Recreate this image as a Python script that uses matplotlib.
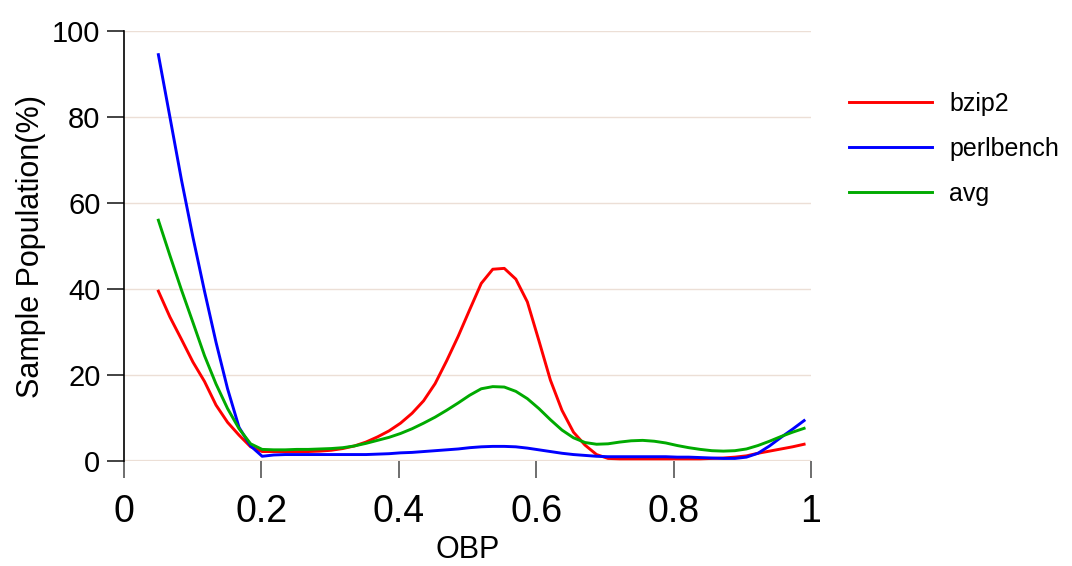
import numpy as np
import matplotlib.pyplot as plt

# OBP sampling grid (57 evenly spaced points)
obp = np.linspace(0.05, 0.99, 57)

# Sample population (%) per benchmark
bzip2 = [39.5, 33.5, 28.3, 23.0, 18.5, 13.0, 9.0, 6.0, 3.3, 2.2,
         2.2, 2.2, 2.2, 2.2, 2.3, 2.5, 2.9, 3.5, 4.4, 5.6,
         7.0, 8.8, 11.1, 14.0, 18.0, 23.3, 29.0, 35.2, 41.3, 44.6,
         44.8, 42.3, 37.0, 28.0, 18.8, 11.8, 6.7, 3.7, 1.5, 0.6,
         0.5, 0.5, 0.5, 0.5, 0.5, 0.5, 0.5, 0.5, 0.6, 0.7,
         0.9, 1.2, 1.8, 2.3, 2.8, 3.3, 3.9]
perlbench = [94.5, 80.0, 65.4, 52.0, 39.5, 27.6, 16.8, 7.8, 3.5, 1.1,
             1.4, 1.5, 1.5, 1.5, 1.5, 1.5, 1.5, 1.5, 1.5, 1.6,
             1.7, 1.9, 2.0, 2.2, 2.4, 2.6, 2.8, 3.1, 3.3, 3.4,
             3.4, 3.3, 3.0, 2.6, 2.2, 1.8, 1.5, 1.3, 1.1, 1.0,
             1.0, 1.0, 1.0, 1.0, 1.0, 0.9, 0.9, 0.8, 0.7, 0.6,
             0.6, 0.9, 1.8, 3.5, 5.5, 7.4, 9.4]
avg = [56.0, 47.8, 39.8, 32.2, 24.5, 17.9, 12.2, 7.5, 4.0, 2.7,
       2.6, 2.6, 2.7, 2.7, 2.8, 2.9, 3.1, 3.5, 4.1, 4.8,
       5.5, 6.4, 7.5, 8.8, 10.2, 11.8, 13.5, 15.3, 16.8, 17.3,
       17.2, 16.2, 14.5, 12.2, 9.6, 7.2, 5.4, 4.3, 3.9, 4.0,
       4.4, 4.7, 4.8, 4.6, 4.2, 3.6, 3.1, 2.7, 2.4, 2.3,
       2.4, 2.8, 3.6, 4.6, 5.7, 6.7, 7.6]

series = [("bzip2", bzip2, "#ff0000"),
          ("perlbench", perlbench, "#0000ff"),
          ("avg", avg, "#00aa00")]

plt.rcParams['font.family'] = ['Liberation Sans', 'DejaVu Sans']

fig = plt.figure(figsize=(10.72, 5.66), dpi=100)
ax = fig.add_axes([0.1157, 0.1855, 0.6408, 0.7597])

for name, vals, col in series:
    ax.plot(obp, vals, color=col, lw=2.1, label=name)

ax.set_xlim(0, 1)
ax.set_ylim(0, 100)
ax.set_xticks([0, 0.2, 0.4, 0.6, 0.8, 1])
ax.set_xticklabels(["0", "0.2", "0.4", "0.6", "0.8", "1"])
ax.set_yticks([0, 20, 40, 60, 80, 100])

# horizontal grid, the zero line doubles as the x axis
for v in [0, 20, 40, 60, 80, 100]:
    ax.axhline(v, color="#ecdfd6", lw=1.6 if v == 0 else 1.0, zorder=0)

for s in ["top", "right", "bottom"]:
    ax.spines[s].set_visible(False)
ax.spines["left"].set_linewidth(1.2)

ax.tick_params(axis="x", length=12, width=1.2, color="#555555",
               labelsize=27, pad=12)
ax.tick_params(axis="y", length=12, width=1.2, color="#222222",
               labelsize=21, pad=5)

ax.set_xlabel("OBP", fontsize=22, labelpad=3)
ax.set_ylabel("Sample Population(%)", fontsize=22, labelpad=4)

fig.legend(loc="upper left", bbox_to_anchor=(0.771, 0.878), frameon=False,
           fontsize=18, handlelength=3.3, handletextpad=0.7,
           labelspacing=0.85)

fig.savefig("out.png", dpi=100)
